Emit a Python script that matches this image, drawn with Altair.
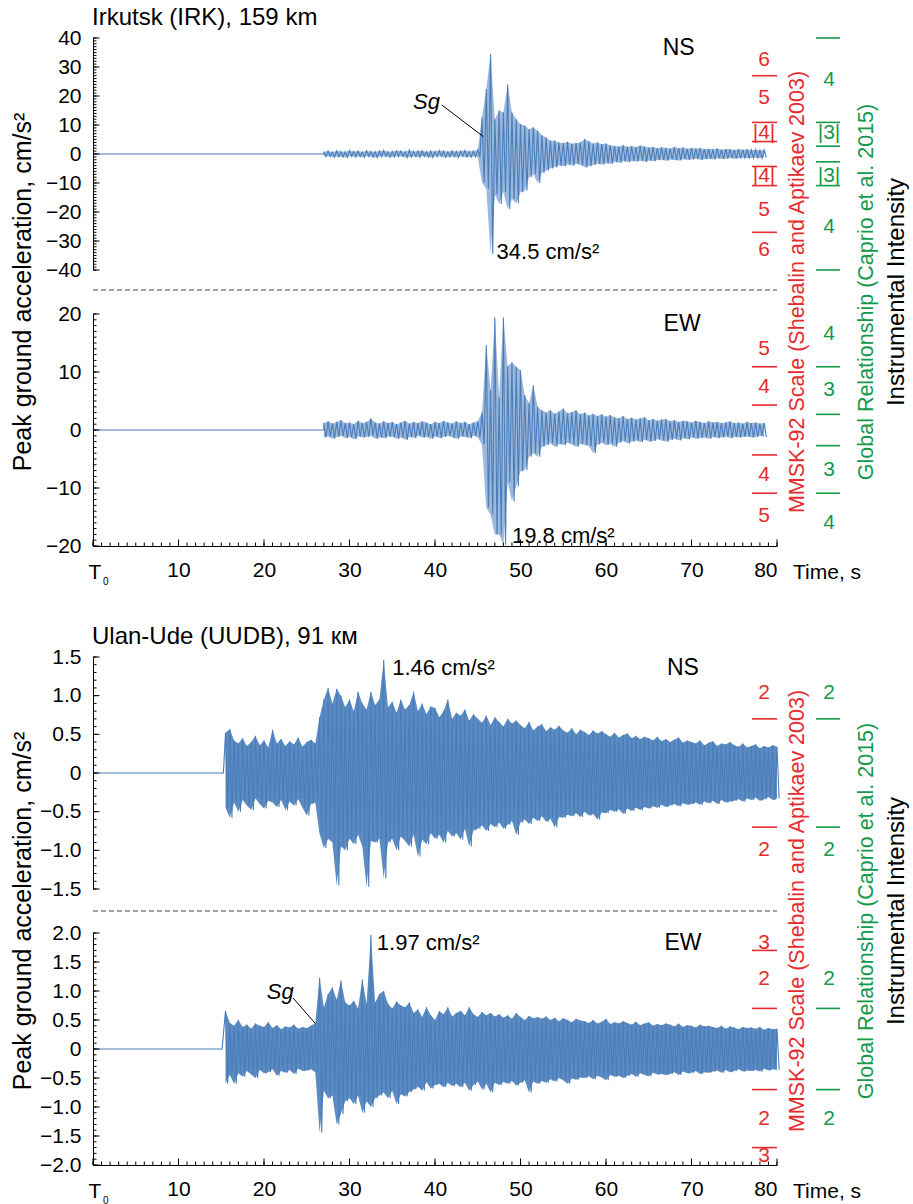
import altair as alt
import pandas as pd

FONT = "Liberation Sans, Arial, Helvetica, sans-serif"
NARROW = "Liberation Sans Narrow, Arial Narrow, Liberation Sans, Arial, sans-serif"
BLUE = "#4a7ebb"
RED = "#e62a2e"
GREEN = "#15994b"
W, H = 684, 232
STEP = 0.5  # envelope sampling step (s)

# ---------------- Irkutsk NS ----------------
P1_ONSET = 27.0
P1_START = 27.0
P1_UP = [0.8, 1.0, 0.7, 1.1, 0.9, 0.8, 1.2, 0.9, 1.0, 0.7,
         1.1, 0.9, 0.8, 1.0, 1.2, 0.8, 0.9, 1.1, 1.0, 0.8,
         1.3, 0.9, 1.0, 1.1, 0.8, 1.0, 0.9, 1.2, 1.0, 0.8,
         1.1, 0.9, 1.0, 1.2, 0.9, 1.0, 1.4,
         12.6, 22.4, 34.5, 12.0, 15.0, 14.3, 24.0, 14.3, 12.0, 10.3,
         9.8, 8.5, 9.2, 8.0, 6.5, 5.7, 4.6, 4.6, 4.0, 3.8,
         4.2, 3.5, 3.8, 4.0, 5.2, 4.4, 3.6, 4.0, 3.4, 3.6, 3.0,
         2.8, 2.6, 3.0, 2.5, 2.7, 2.4, 2.9, 2.6, 2.2, 2.4,
         2.0, 2.3, 2.1, 1.9, 2.4, 2.0, 2.2, 1.8, 2.1, 1.9,
         2.0, 1.7, 1.8, 1.6, 1.9, 1.5, 1.7, 1.6, 1.4, 1.7,
         1.5, 1.6, 1.4, 1.5, 1.3, 1.4]
P1_DN = [0.9, 0.8, 1.1, 0.9, 1.0, 1.2, 0.8, 1.0, 0.9, 1.1,
         0.8, 1.0, 1.2, 0.9, 0.8, 1.1, 1.0, 0.9, 0.8, 1.2,
         1.0, 0.9, 1.1, 0.8, 1.0, 1.2, 0.9, 0.8, 1.1, 1.0,
         0.9, 1.2, 0.8, 1.0, 1.1, 0.9, 1.0,
         9.8, 12.0, 34.5, 14.0, 17.2, 13.0, 19.0, 15.5, 17.0, 13.2,
         12.6, 8.0, 7.0, 10.0, 6.5, 5.7, 5.0, 4.6, 4.0, 4.2,
         3.6, 4.0, 3.4, 3.8, 4.6, 4.2, 3.8, 3.4, 3.6, 3.2, 3.4,
         2.7, 3.0, 2.5, 2.8, 2.4, 2.6, 2.3, 2.7, 2.2, 2.5,
         2.1, 2.0, 2.3, 1.9, 2.1, 2.2, 1.8, 2.0, 1.9, 1.7,
         2.0, 1.8, 1.6, 1.9, 1.5, 1.7, 1.6, 1.4, 1.6, 1.5,
         1.3, 1.5, 1.4, 1.3, 1.5, 1.2]

# ---------------- Irkutsk EW ----------------
P2_ONSET = 27.0
P2_START = 27.0
P2_UP = [1.2, 1.5, 1.1, 1.4, 1.7, 1.2, 1.3, 1.0, 1.6, 1.2,
         1.4, 2.0, 1.3, 1.1, 1.5, 1.2, 1.4, 1.0, 1.3, 1.6,
         1.1, 1.4, 1.2, 1.5, 1.3, 1.0, 1.4, 1.2, 1.6, 1.3,
         1.1, 1.5, 1.2, 1.4, 1.0, 1.3, 1.5,
         3.0, 14.6, 6.9, 19.4, 5.7, 19.4, 11.0, 11.7, 10.9, 10.3,
         6.0, 4.6, 7.7, 4.0, 3.4, 3.0, 3.4, 2.8, 3.2, 3.7,
         2.9, 3.1, 3.4, 2.7, 3.0, 2.5, 2.8, 2.4, 2.7, 2.3, 2.6,
         2.2, 2.0, 2.4, 1.9, 2.1, 1.8, 2.0, 2.2, 1.7, 1.9,
         1.6, 1.8, 1.9, 1.5, 1.7, 1.4, 1.6, 1.5, 1.3, 1.6,
         1.4, 1.2, 1.5, 1.3, 1.4, 1.2, 1.3, 1.5, 1.2, 1.3,
         1.1, 1.4, 1.2, 1.3, 1.1, 1.2]
P2_DN = [1.3, 1.1, 1.5, 1.2, 1.0, 1.4, 1.2, 1.6, 1.1, 1.3,
         1.2, 1.0, 1.5, 1.3, 1.4, 1.1, 1.2, 1.5, 1.3, 1.7,
         1.2, 1.4, 1.0, 1.3, 1.2, 1.5, 1.1, 1.4, 1.2, 1.0,
         1.3, 1.5, 1.1, 1.2, 1.4, 1.0, 1.3,
         2.5, 13.4, 14.6, 18.0, 18.0, 19.8, 9.0, 12.3, 9.7, 7.1,
         6.9, 4.6, 4.0, 4.6, 2.9, 2.6, 2.3, 2.9, 2.4, 2.6,
         2.2, 2.5, 2.9, 2.4, 2.6, 2.8, 4.0, 2.5, 2.2, 2.6, 2.4,
         2.9, 2.2, 1.9, 2.3, 2.0, 1.8, 2.1, 1.7, 2.0, 1.9,
         1.6, 1.8, 2.0, 1.7, 1.5, 1.8, 1.4, 1.6, 1.3, 1.5,
         1.4, 1.3, 1.5, 1.2, 1.4, 1.3, 1.1, 1.4, 1.2, 1.3,
         1.2, 1.1, 1.3, 1.2, 1.0, 1.2]

# ---------------- Ulan-Ude NS ----------------
P3_ONSET = 15.25
P3_START = 15.5
P3_UP = [0.52, 0.57, 0.42, 0.38, 0.45, 0.35, 0.40, 0.48, 0.36, 0.42,
         0.33, 0.56, 0.38, 0.44, 0.35, 0.41, 0.37, 0.46, 0.34, 0.40,
         0.43, 0.38,
         0.72, 0.95, 1.10, 0.90, 1.09, 1.00, 0.85, 0.95, 0.80, 1.05,
         0.90, 0.82, 1.05, 0.88, 0.95, 1.46,
         0.85, 0.92, 0.78, 0.95, 0.82, 0.88, 1.05, 0.80, 0.90, 0.76, 0.86,
         0.84, 0.72, 0.80, 0.95, 0.70, 0.78, 0.74, 0.82, 0.68, 0.76,
         0.70, 0.65, 0.74, 0.62, 0.72, 0.66, 0.60, 0.70, 0.64, 0.68,
         0.62, 0.58, 0.66, 0.55, 0.60, 0.63, 0.54, 0.59, 0.56, 0.61,
         0.55, 0.52, 0.58, 0.50, 0.56, 0.53, 0.49, 0.55, 0.51, 0.54,
         0.50, 0.47, 0.52, 0.46, 0.49, 0.51, 0.45, 0.48, 0.44, 0.47,
         0.45, 0.42, 0.47, 0.41, 0.44, 0.40, 0.43, 0.46, 0.39, 0.42,
         0.40, 0.38, 0.42, 0.36, 0.39, 0.41, 0.35, 0.38, 0.37, 0.40,
         0.36, 0.34, 0.38, 0.33, 0.35, 0.37, 0.32, 0.35, 0.33, 0.36, 0.34]
P3_DN = [0.45, 0.58, 0.38, 0.50, 0.35, 0.42, 0.48, 0.33, 0.40, 0.46,
         0.36, 0.38, 0.44, 0.35, 0.48, 0.37, 0.42, 0.34, 0.45, 0.55,
         0.40, 0.38,
         0.79, 0.97, 0.85, 0.90, 1.45, 0.95, 1.00, 0.85, 0.92, 0.80,
         0.95, 1.47, 0.88, 0.90, 0.85, 1.36,
         0.90, 0.85, 1.00, 0.82, 0.88, 0.95, 0.80, 1.08, 0.86, 0.92, 0.78,
         0.85, 0.80, 0.90, 0.75, 0.82, 0.78, 0.86, 0.72, 0.95, 0.74,
         0.72, 0.68, 0.75, 0.66, 0.70, 0.64, 0.72, 0.67, 0.62, 0.80,
         0.64, 0.60, 0.66, 0.58, 0.62, 0.56, 0.63, 0.59, 0.70, 0.57,
         0.58, 0.54, 0.56, 0.52, 0.57, 0.50, 0.55, 0.53, 0.60, 0.51,
         0.52, 0.48, 0.50, 0.47, 0.53, 0.46, 0.49, 0.45, 0.48, 0.44,
         0.46, 0.43, 0.45, 0.41, 0.44, 0.42, 0.40, 0.43, 0.39, 0.41,
         0.40, 0.38, 0.41, 0.37, 0.39, 0.36, 0.40, 0.35, 0.38, 0.37,
         0.36, 0.34, 0.37, 0.33, 0.35, 0.32, 0.36, 0.34, 0.31, 0.35, 0.33]

# ---------------- Ulan-Ude EW ----------------
P4_ONSET = 15.1
P4_START = 15.5
P4_UP = [0.66, 0.45, 0.40, 0.50, 0.38, 0.42, 0.35, 0.44, 0.40, 0.38,
         0.46, 0.36, 0.41, 0.34, 0.39, 0.37, 0.42, 0.35, 0.38, 0.36, 0.40,
         0.45, 1.23, 0.72, 0.95, 1.06, 0.85, 1.18, 0.80, 0.75, 0.83,
         0.70, 1.20, 0.78, 1.97, 0.80,
         0.95, 1.00, 0.78, 0.70, 0.82, 0.75, 0.72, 0.80,
         0.62, 0.68, 0.55, 0.72, 0.58, 0.50, 0.65, 0.60, 0.72, 0.56,
         0.62, 0.66, 0.58, 0.72, 0.60, 0.55, 0.64, 0.58, 0.62, 0.56,
         0.60, 0.54, 0.58, 0.52, 0.62, 0.55, 0.50, 0.57, 0.53, 0.55,
         0.52, 0.56, 0.50, 0.54, 0.48, 0.53, 0.50, 0.46, 0.52, 0.49,
         0.48, 0.45, 0.50, 0.44, 0.47, 0.52, 0.43, 0.46, 0.44, 0.48,
         0.45, 0.42, 0.47, 0.41, 0.44, 0.46, 0.40, 0.43, 0.41, 0.44,
         0.42, 0.39, 0.44, 0.38, 0.41, 0.40, 0.37, 0.42, 0.39, 0.40,
         0.38, 0.36, 0.40, 0.35, 0.39, 0.37, 0.34, 0.38, 0.36, 0.37,
         0.35, 0.38, 0.33, 0.36, 0.34, 0.35]
P4_DN = [0.60, 0.45, 0.60, 0.42, 0.48, 0.38, 0.44, 0.50, 0.36, 0.42,
         0.40, 0.35, 0.46, 0.38, 0.41, 0.36, 0.43, 0.34, 0.38, 0.37, 0.35,
         0.40, 1.44, 0.72, 0.85, 0.80, 1.30, 1.12, 0.90, 0.85, 0.95,
         0.80, 1.10, 0.90, 1.00, 0.85,
         0.80, 0.75, 0.85, 0.72, 0.95, 0.78, 0.82, 0.74,
         0.70, 0.65, 0.72, 0.57, 0.68, 0.62, 0.60, 0.66, 0.58, 0.64,
         0.60, 0.66, 0.58, 0.72, 0.62, 0.56, 0.70, 0.60, 0.75, 0.58,
         0.62, 0.57, 0.60, 0.55, 0.63, 0.58, 0.54, 0.75, 0.56, 0.60,
         0.55, 0.58, 0.52, 0.56, 0.50, 0.54, 0.60, 0.51, 0.53, 0.49,
         0.50, 0.47, 0.52, 0.46, 0.49, 0.54, 0.45, 0.48, 0.46, 0.50,
         0.46, 0.43, 0.48, 0.42, 0.45, 0.47, 0.41, 0.44, 0.43, 0.45,
         0.43, 0.40, 0.45, 0.39, 0.42, 0.41, 0.38, 0.43, 0.40, 0.41,
         0.39, 0.37, 0.41, 0.36, 0.40, 0.38, 0.35, 0.39, 0.37, 0.38,
         0.36, 0.39, 0.34, 0.37, 0.35, 0.36]

# ---------------- axes ----------------
X_LABELS = [0, 10, 20, 30, 40, 50, 60, 70, 80]
X_MINOR = list(range(0, 81))
P1_YLAB = [-40, -30, -20, -10, 0, 10, 20, 30, 40]
P1_YMINOR = list(range(-40, 41))
P2_YLAB = [-20, -10, 0, 10, 20]
P2_YMINOR = list(range(-20, 21))
P3_YLAB = [-1.5, -1.0, -0.5, 0, 0.5, 1.0, 1.5]
P3_YMINOR = [round(v * 0.1, 1) for v in range(-15, 16)]
P4_YLAB = [-2.0, -1.5, -1.0, -0.5, 0, 0.5, 1.0, 1.5, 2.0]
P4_YMINOR = [round(v * 0.1, 1) for v in range(-20, 21)]

# ---------------- intensity scales ----------------
P1_RED_THR = [27.0, 10.9, 4.3, -4.3, -10.9, -27.0]
P1_RED_LBL = ["6", "5", "|4|", "|4|", "5", "6"]
P1_RED_POS = [32.4, 19.3, 7.1, -7.5, -19.3, -33.1]
P1_GRN_THR = [40.0, 10.9, 2.7, -2.7, -10.9, -40.0]
P1_GRN_LBL = ["4", "|3|", "|3|", "4"]
P1_GRN_POS = [25.5, 7.1, -7.5, -25.2]

P2_RED_THR = [10.9, 4.3, -4.3, -10.9]
P2_RED_LBL = ["5", "4", "4", "5"]
P2_RED_POS = [14.0, 7.4, -7.7, -14.9]
P2_GRN_THR = [10.9, 2.7, -2.7, -10.9]
P2_GRN_LBL = ["4", "3", "3", "4"]
P2_GRN_POS = [16.6, 6.9, -6.9, -16.0]

P3_RED_THR = [0.7, -0.7]
P3_RED_LBL = ["2", "2"]
P3_RED_POS = [1.03, -0.99]
P3_GRN_THR = [0.7, -0.7]
P3_GRN_LBL = ["2", "2"]
P3_GRN_POS = [1.03, -0.99]

P4_RED_THR = [1.7, 0.7, -0.7, -1.7]
P4_RED_LBL = ["3", "2", "2", "3"]
P4_RED_POS = [1.83, 1.2, -1.2, -1.84]
P4_GRN_THR = [0.7, -0.7]
P4_GRN_LBL = ["2", "2"]
P4_GRN_POS = [1.2, -1.2]

# ---------------- annotations ----------------
P1_COMP = ("NS", 68.5, 36.6)
P1_PEAK = ("34.5 cm/s²", 47.2, -33.7)
P1_SG = ("Sg", 39.0, 18.0)
P1_SG_LINE = (40.8, 16.9, 45.65, 6.0)
P2_COMP = ("EW", 68.9, 18.2)
P2_PEAK = ("19.8 cm/s²", 49.0, -18.2)
P3_COMP = ("NS", 69.0, 1.36)
P3_PEAK = ("1.46 cm/s²", 35.0, 1.36)
P4_COMP = ("EW", 69.0, 1.83)
P4_PEAK = ("1.97 cm/s²", 33.2, 1.83)
P4_SG = ("Sg", 21.9, 0.98)
P4_SG_LINE = (23.4, 0.88, 26.0, 0.44)

TITLE_1 = "Irkutsk (IRK), 159 km"
TITLE_2 = "Ulan-Ude (UUDB), 91 км"
Y_TITLE = "Peak ground acceleration, cm/s²"
RED_TITLE = "MMSK-92 Scale (Shebalin and Aptikaev 2003)"
GRN_TITLE = "Global Relationship (Caprio et al. 2015)"
INT_TITLE = "Instrumental Intensity"


def trace_df(onset, start, up, dn):
    rows = [(0.0, 0.0), (onset, 0.0)]
    for i, (u, d) in enumerate(zip(up, dn)):
        t = start + STEP * i
        rows.append((t, u))
        rows.append((t + STEP / 2, -d))
    df = pd.DataFrame(rows, columns=["t", "a"])
    df["seq"] = range(len(df))
    return df


def band_df(start, up, dn):
    rows = []
    for i, (u, d) in enumerate(zip(up, dn)):
        rows.append((start + STEP * i, u, -d))
    return pd.DataFrame(rows, columns=["t", "a", "b"])


ONE = pd.DataFrame({"k": [0]})


def fixed_text(text, x, y, size=20, color="black", angle=0, align="left", style="normal", font=FONT):
    return alt.Chart(ONE).mark_text(
        text=text, font=font, fontSize=size, color=color, angle=angle,
        align=align, baseline="middle", fontStyle=style
    ).encode(x=alt.value(x), y=alt.value(y))


def panel(trace, band, band_op, dom, ylab, yminor, ylab_expr, show_x, red_thr, red_lbl, red_pos,
          grn_thr, grn_lbl, grn_pos, comp, peak, sg=None, sg_line=None, extras=()):
    ys = alt.Scale(domain=dom, nice=False, zero=False)
    xs = alt.Scale(domain=[0, 80], nice=False, zero=False)
    yax_kw = dict(values=ylab, ticks=False, tickSize=0, grid=False, domainColor="black",
                  domainWidth=1, labelFont=FONT, labelFontSize=21, labelColor="black",
                  labelPadding=12, title=None)
    if ylab_expr:
        yax_kw["labelExpr"] = ylab_expr
    yaxis = alt.Axis(**yax_kw)
    if show_x:
        xaxis = alt.Axis(values=X_LABELS, ticks=False, tickSize=0, grid=False,
                         domainColor="black", domainWidth=1, labelFont=NARROW,
                         labelFontSize=21, labelColor="black", labelPadding=13,
                         title=None, labelExpr="datum.value == 0 ? '' : datum.label")
    else:
        xaxis = None

    def X(field):
        return alt.X(field, scale=xs, axis=xaxis)

    def Y(field):
        return alt.Y(field, scale=ys, axis=yaxis)

    layers = []
    layers.append(
        alt.Chart(band).mark_area(color=BLUE, opacity=band_op, strokeWidth=0).encode(
            x=X("t:Q"), y=Y("a:Q"), y2="b:Q")
    )
    layers.append(
        alt.Chart(trace).mark_line(color=BLUE, strokeWidth=1.1).encode(
            x=X("t:Q"), y=Y("a:Q"), order=alt.Order("seq:Q"))
    )
    # y ticks (inward)
    layers.append(alt.Chart(pd.DataFrame({"v": yminor})).mark_rule(color="black", strokeWidth=1).encode(
        y=Y("v:Q"), x=alt.value(0), x2=alt.value(3.5)))
    layers.append(alt.Chart(pd.DataFrame({"v": ylab})).mark_rule(color="black", strokeWidth=1).encode(
        y=Y("v:Q"), x=alt.value(0), x2=alt.value(6.5)))
    if show_x:
        layers.append(alt.Chart(pd.DataFrame({"v": X_MINOR})).mark_rule(color="black", strokeWidth=1).encode(
            x=X("v:Q"), y=alt.value(H), y2=alt.value(H - 3.5)))
        layers.append(alt.Chart(pd.DataFrame({"v": X_LABELS})).mark_rule(color="black", strokeWidth=1).encode(
            x=X("v:Q"), y=alt.value(H), y2=alt.value(H - 6.5)))
        layers.append(fixed_text("Time, s", 700, H + 27, size=21, font=NARROW))
        layers.append(fixed_text("T", 2, H + 27, size=21, align="center", font=NARROW))
        layers.append(fixed_text("0", 10, H + 36, size=10, font=NARROW))
    # intensity scale rules
    layers.append(alt.Chart(pd.DataFrame({"v": red_thr})).mark_rule(color=RED, strokeWidth=1.6).encode(
        y=Y("v:Q"), x=alt.value(659), x2=alt.value(684)))
    layers.append(alt.Chart(pd.DataFrame({"v": grn_thr})).mark_rule(color=GREEN, strokeWidth=1.6).encode(
        y=Y("v:Q"), x=alt.value(723), x2=alt.value(747)))
    layers.append(alt.Chart(pd.DataFrame({"v": red_pos, "l": red_lbl})).mark_text(
        font=FONT, fontSize=21, color=RED, align="center", baseline="middle").encode(
        y=Y("v:Q"), x=alt.value(671), text="l:N"))
    layers.append(alt.Chart(pd.DataFrame({"v": grn_pos, "l": grn_lbl})).mark_text(
        font=FONT, fontSize=21, color=GREEN, align="center", baseline="middle").encode(
        y=Y("v:Q"), x=alt.value(736), text="l:N"))
    # annotations
    notes = [(comp, "center", "normal", 23), (peak, "left", "normal", 22)]
    if sg:
        notes.append((sg, "center", "italic", 22))
    for (txt, t, a), align, style, size in notes:
        layers.append(alt.Chart(pd.DataFrame({"t": [t], "a": [a], "l": [txt]})).mark_text(
            font=FONT, fontSize=size, color="black", align=align, baseline="middle", fontStyle=style).encode(
            x=X("t:Q"), y=Y("a:Q"), text="l:N"))
    if sg_line:
        t1, a1, t2, a2 = sg_line
        layers.append(alt.Chart(pd.DataFrame({"t": [t1], "a": [a1], "t2": [t2], "a2": [a2]})).mark_rule(
            color="black", strokeWidth=1).encode(
            x=X("t:Q"), y=Y("a:Q"), x2="t2:Q", y2="a2:Q"))
    layers.extend(extras)
    return alt.layer(*layers).properties(width=W, height=H)


def group_extras(title, sep_y, top_anchor=False):
    cy = 254
    ex = [
        fixed_text(title, -1, -20, size=24),
        fixed_text(Y_TITLE, -70, cy, size=25, angle=270, align="center"),
        fixed_text(RED_TITLE, 705, cy, size=21.5, color=RED, angle=270, align="center"),
        fixed_text(GRN_TITLE, 774, cy, size=21.5, color=GREEN, angle=270, align="center"),
        fixed_text(INT_TITLE, 804, cy, size=24, angle=270, align="center"),
        alt.Chart(ONE).mark_rule(color="#444444", strokeWidth=1, strokeDash=[5, 3]).encode(
            x=alt.value(0), x2=alt.value(W), y=alt.value(sep_y)),
    ]
    if top_anchor:
        ex.append(alt.Chart(ONE).mark_rule(strokeOpacity=0).encode(
            x=alt.value(-93), x2=alt.value(-92), y=alt.value(-38), y2=alt.value(-37)))
    return ex


p1 = panel(trace_df(P1_ONSET, P1_START, P1_UP, P1_DN), band_df(P1_START, P1_UP, P1_DN), 0.55,
           [-40, 40], P1_YLAB, P1_YMINOR, None, False,
           P1_RED_THR, P1_RED_LBL, P1_RED_POS, P1_GRN_THR, P1_GRN_LBL, P1_GRN_POS,
           P1_COMP, P1_PEAK, P1_SG, P1_SG_LINE, group_extras(TITLE_1, H + 20, True))
p2 = panel(trace_df(P2_ONSET, P2_START, P2_UP, P2_DN), band_df(P2_START, P2_UP, P2_DN), 0.55,
           [-20, 20], P2_YLAB, P2_YMINOR, None, True,
           P2_RED_THR, P2_RED_LBL, P2_RED_POS, P2_GRN_THR, P2_GRN_LBL, P2_GRN_POS,
           P2_COMP, P2_PEAK)
EXPR1 = "datum.value == 0 ? '0' : format(datum.value, '.1f')"
p3 = panel(trace_df(P3_ONSET, P3_START, P3_UP, P3_DN), band_df(P3_START, P3_UP, P3_DN), 0.9,
           [-1.5, 1.5], P3_YLAB, P3_YMINOR, EXPR1, False,
           P3_RED_THR, P3_RED_LBL, P3_RED_POS, P3_GRN_THR, P3_GRN_LBL, P3_GRN_POS,
           P3_COMP, P3_PEAK, extras=group_extras(TITLE_2, H + 22))
p4 = panel(trace_df(P4_ONSET, P4_START, P4_UP, P4_DN), band_df(P4_START, P4_UP, P4_DN), 0.9,
           [-2, 2], P4_YLAB, P4_YMINOR, EXPR1, True,
           P4_RED_THR, P4_RED_LBL, P4_RED_POS, P4_GRN_THR, P4_GRN_LBL, P4_GRN_POS,
           P4_COMP, P4_PEAK, P4_SG, P4_SG_LINE)

spacer = alt.Chart(ONE).mark_point(opacity=0).encode(
    x=alt.X("k:Q", axis=None), y=alt.Y("k:Q", axis=None)).properties(width=W, height=23)

chart = alt.vconcat(p1, p2, spacer, p3, p4, spacing=44, bounds="flush").properties(
    padding=0).configure_view(stroke=None)

chart.save("out.html", embed_options={"renderer": "svg", "actions": False})
